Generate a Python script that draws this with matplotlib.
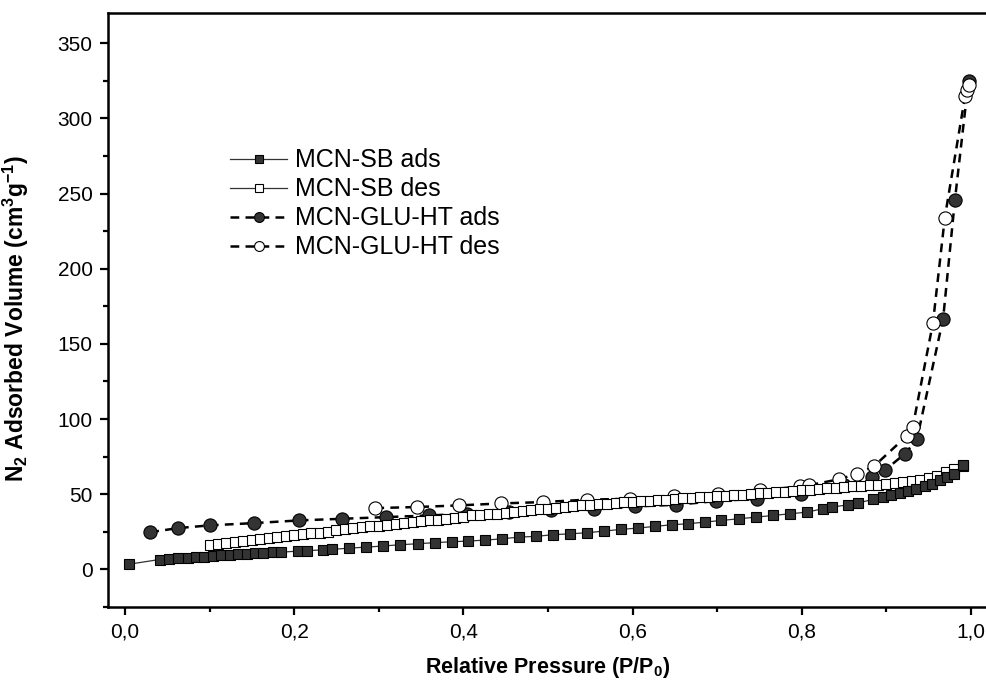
import matplotlib
matplotlib.use("Agg")
import matplotlib.pyplot as plt
from matplotlib.ticker import MultipleLocator, FuncFormatter

plt.rcParams['font.family'] = ['Liberation Sans', 'DejaVu Sans']
plt.rcParams['mathtext.fontset'] = 'custom'
plt.rcParams['mathtext.rm'] = 'Liberation Sans'
plt.rcParams['mathtext.bf'] = 'Liberation Sans:bold'

# MCN-SB adsorption (filled squares)
sb_ads_x = [0.005, 0.041, 0.052, 0.063, 0.074, 0.084, 0.094, 0.104, 0.114, 0.124,
            0.134, 0.144, 0.154, 0.163, 0.175, 0.185, 0.205, 0.215, 0.234, 0.245,
            0.265, 0.285, 0.305, 0.325, 0.346, 0.366, 0.386, 0.406, 0.426, 0.446,
            0.466, 0.486, 0.506, 0.526, 0.546, 0.566, 0.586, 0.606, 0.626, 0.646,
            0.666, 0.686, 0.705, 0.726, 0.746, 0.766, 0.786, 0.806, 0.825, 0.836,
            0.855, 0.866, 0.884, 0.896, 0.905, 0.916, 0.926, 0.935, 0.945, 0.954,
            0.963, 0.971, 0.980, 0.990]
sb_ads_y = [3.5, 6.6, 7.0, 7.4, 7.8, 8.2, 8.6, 9.0, 9.4, 9.8,
            10.1, 10.4, 10.7, 11.0, 11.3, 11.5, 12.2, 12.5, 13.0, 13.3,
            14.2, 14.8, 15.6, 16.4, 17.1, 17.8, 18.4, 18.9, 19.5, 20.4,
            21.5, 22.0, 23.1, 23.7, 24.4, 25.5, 26.6, 27.5, 28.6, 29.7,
            30.4, 31.5, 32.6, 33.7, 34.8, 35.9, 37.0, 38.1, 40.4, 41.5,
            43.0, 44.1, 46.6, 48.1, 49.2, 50.8, 52.1, 53.7, 55.4, 57.0,
            59.2, 61.4, 63.7, 69.2]

# MCN-SB desorption (open squares)
sb_des_x = [0.10, 0.11, 0.12, 0.13, 0.14, 0.15, 0.16, 0.17, 0.18, 0.19,
            0.20, 0.21, 0.22, 0.23, 0.24, 0.25, 0.26, 0.27, 0.28, 0.29,
            0.30, 0.31, 0.32, 0.33, 0.34, 0.35, 0.36, 0.37, 0.38, 0.39,
            0.40, 0.41, 0.42, 0.43, 0.44, 0.45, 0.46, 0.47, 0.48, 0.49,
            0.50, 0.51, 0.52, 0.53, 0.54, 0.55, 0.56, 0.57, 0.58, 0.59,
            0.60, 0.61, 0.62, 0.63, 0.64, 0.65, 0.66, 0.67, 0.68, 0.69,
            0.70, 0.71, 0.72, 0.73, 0.74, 0.75, 0.76, 0.77, 0.78, 0.79,
            0.80, 0.81, 0.82, 0.83, 0.84, 0.85, 0.86, 0.87, 0.88, 0.89,
            0.90, 0.91, 0.92, 0.93, 0.94, 0.95, 0.96, 0.97, 0.98, 0.99]
sb_des_y = [16.0, 17.0, 17.7, 18.2, 18.8, 19.3, 20.0, 20.8, 21.5, 22.2,
            23.0, 23.7, 24.0, 24.4, 24.8, 26.0, 27.1, 27.6, 28.1, 28.6,
            29.2, 29.8, 30.4, 31.0, 31.6, 32.2, 32.7, 33.2, 33.7, 34.4,
            35.2, 35.9, 36.3, 36.7, 37.0, 37.6, 38.2, 38.8, 39.3, 39.9,
            40.4, 41.0, 41.8, 42.2, 42.6, 43.0, 43.4, 43.8, 44.2, 44.6,
            45.0, 45.4, 45.8, 46.2, 46.5, 46.9, 47.2, 47.6, 48.0, 48.4,
            48.8, 49.1, 49.4, 49.8, 50.2, 50.6, 51.0, 51.3, 51.6, 52.1,
            52.6, 53.1, 53.6, 54.0, 54.4, 54.8, 55.2, 55.6, 56.0, 56.4,
            56.8, 57.4, 58.2, 59.0, 59.8, 61.0, 62.4, 64.6, 66.8, 69.0]

# MCN-GLU-HT adsorption (filled circles)
glu_ads_x = [0.030, 0.063, 0.100, 0.152, 0.206, 0.257, 0.309, 0.359, 0.404, 0.454,
             0.503, 0.554, 0.603, 0.651, 0.699, 0.747, 0.799, 0.850, 0.883, 0.898,
             0.922, 0.936, 0.967, 0.981, 0.997]
glu_ads_y = [24.8, 27.5, 29.3, 30.8, 32.6, 33.7, 34.8, 35.9, 37.0, 38.0,
             39.3, 40.4, 41.9, 43.0, 45.5, 47.0, 50.4, 55.9, 61.4, 65.9,
             77.0, 86.5, 166.8, 246.0, 325.0]

# MCN-GLU-HT desorption (open circles)
glu_des_x = [0.296, 0.345, 0.395, 0.445, 0.494, 0.546, 0.597, 0.649, 0.701, 0.751,
             0.798, 0.808, 0.844, 0.865, 0.885, 0.924, 0.931, 0.955, 0.969, 0.993,
             0.995, 0.997]
glu_des_y = [40.8, 41.5, 42.6, 43.9, 44.8, 46.4, 47.0, 48.6, 50.4, 52.6,
             55.2, 55.9, 60.0, 63.5, 68.5, 88.8, 94.5, 164.0, 234.0, 315.0,
             318.5, 322.0]

fig = plt.figure(figsize=(9.86, 6.87), dpi=100)
ax = fig.add_axes([0.1095, 0.1164, 0.8925, 0.8646])

dark = '#333333'
ax.plot(glu_ads_x, glu_ads_y, ls=(0, (3.5, 2.5)), lw=1.8, color='black', marker='o',
        ms=9.5, mfc=dark, mec='black', mew=0.8, label='MCN-GLU-HT ads', zorder=2)
ax.plot(glu_des_x, glu_des_y, ls=(0, (3.5, 2.5)), lw=1.8, color='black', marker='o',
        ms=9.5, mfc='white', mec='black', mew=0.8, label='MCN-GLU-HT des', zorder=2)
ax.plot(sb_des_x, sb_des_y, ls='-', lw=0.9, color=dark, marker='s',
        ms=7.5, mfc='white', mec='black', mew=0.8, label='MCN-SB des', zorder=3)
ax.plot(sb_ads_x, sb_ads_y, ls='-', lw=0.9, color=dark, marker='s',
        ms=7.5, mfc=dark, mec='black', mew=0.8, label='MCN-SB ads', zorder=3)

ax.set_xlim(-0.02, 1.02)
ax.set_ylim(-25, 370)
ax.xaxis.set_major_locator(MultipleLocator(0.2))
ax.xaxis.set_minor_locator(MultipleLocator(0.1))
ax.yaxis.set_major_locator(MultipleLocator(50))
ax.yaxis.set_minor_locator(MultipleLocator(25))
ax.xaxis.set_major_formatter(FuncFormatter(lambda v, p: f'{v:.1f}'.replace('.', ',')))
ax.yaxis.set_major_formatter(FuncFormatter(lambda v, p: f'{v:.0f}'))

ax.tick_params(which='major', direction='out', length=6, width=1.6, labelsize=15, pad=5)
ax.tick_params(which='minor', direction='out', length=3.5, width=1.6)
for s in ax.spines.values():
    s.set_linewidth(1.8)

ax.set_xlabel(r'Relative Pressure (P/P$_\mathbf{0}$)', fontsize=15.5, fontweight='bold', labelpad=10)
ax.set_ylabel(r'N$_\mathbf{2}$ Adsorbed Volume (cm$^\mathbf{3}$g$^\mathbf{-1}$)',
              fontsize=16.5, fontweight='bold')
ax.yaxis.set_label_coords(-0.087, 0.486)

handles, labels = ax.get_legend_handles_labels()
order = [3, 2, 0, 1]
ax.legend([handles[i] for i in order], [labels[i] for i in order],
          loc='upper left', bbox_to_anchor=(0.113, 0.81), frameon=False,
          fontsize=18, handlelength=2.3, handletextpad=0.3, labelspacing=0.2,
          markerscale=0.75)

fig.savefig('out.png', dpi=100)
